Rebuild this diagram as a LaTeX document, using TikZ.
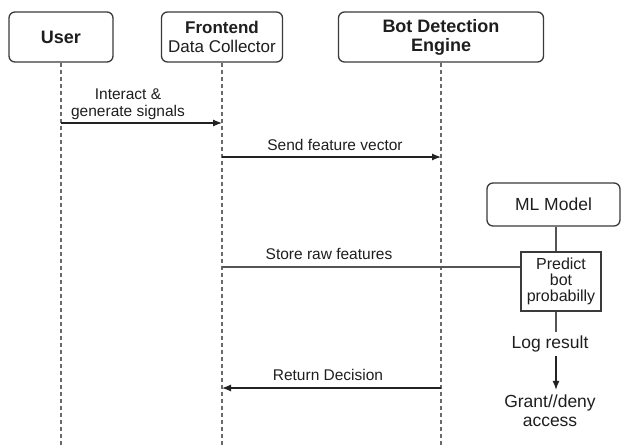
\documentclass[tikz,border=0pt]{standalone}
\usepackage{fontspec}
\setmainfont{Liberation Sans}
\usetikzlibrary{arrows.meta}
\definecolor{boxc}{HTML}{3A3A3A}
\definecolor{lifec}{HTML}{6A6A6A}
\definecolor{arr}{HTML}{222222}
\definecolor{txt}{HTML}{1E1E1E}
\definecolor{thin}{HTML}{555555}
\begin{document}
\begin{tikzpicture}[x=1pt,y=-1pt,
  actor/.style={draw=boxc, line width=1.3pt, rounded corners=6pt, fill=white, align=center, text=txt, inner sep=0pt},
  plainbox/.style={draw=boxc, line width=1.3pt, fill=white, align=center, text=txt, inner sep=0pt},
  life/.style={draw=lifec, line width=1.1pt, dash pattern=on 4pt off 3pt},
  msg/.style={draw=arr, line width=1.2pt, -{Latex[length=9pt,width=7pt]}},
  plainline/.style={draw=thin, line width=1.2pt},
  lbl/.style={text=txt, font=\fontsize{15.5}{17}\selectfont, align=center, inner sep=0pt},
  big/.style={text=txt, font=\fontsize{17.5}{19}\selectfont, align=center, inner sep=4pt}
]
\useasboundingbox (0,0) rectangle (622,445);
% actors
\node[actor, minimum width=104pt, minimum height=50pt, font=\fontsize{18}{20}\selectfont\bfseries] (user) at (61,37)
  {User};
\node[actor, minimum width=121pt, minimum height=50pt, font=\fontsize{17}{19}\selectfont] (front) at (222,37)
  {\textbf{Frontend}\\Data Collector};
\node[actor, minimum width=205pt, minimum height=50pt, font=\fontsize{18}{19}\selectfont\bfseries] (bot) at (441,37)
  {Bot Detection\\Engine};
% lifeline ends
\coordinate (uend) at (61,445);
\coordinate (fend) at (222,445);
\coordinate (bend) at (441,445);
\draw[life] (user.south) -- (uend);
\draw[life] (front.south) -- (fend);
\draw[life] (bot.south) -- (bend);
% ML part
\node[actor, minimum width=133pt, minimum height=43pt, font=\fontsize{17.5}{19}\selectfont] (ml) at (553.5,204.5)
  {ML Model};
\node[plainbox, minimum width=80pt, minimum height=59pt, font=\fontsize{16}{16}\selectfont] (pred) at (561,281.5)
  {Predict\\bot\\probabilly};
\coordinate (cx) at (556,0);
\node[big] (log) at (550,344) {Log result};
\node[big, inner sep=5pt] (grant) at (550,411) {Grant//deny\\access};
\draw[plainline] (ml.south -| cx) -- (pred.north -| cx);
\draw[plainline] (pred.south -| cx) -- (log.north -| cx);
\draw[msg] (log.south -| cx) -- (grant.north -| cx);
% message points
\coordinate (u1) at (61,123);
\coordinate (f1) at (222,123);
\coordinate (f2) at (222,157);
\coordinate (b2) at (441,157);
\coordinate (f3) at (222,267);
\coordinate (f4) at (222,388);
\coordinate (b4) at (441,388);
% messages
\draw[msg] (u1) -- (f1);
\node[lbl] (l1) at (128,104) {Interact \&\\generate signals};
\draw[msg] (f2) -- (b2);
\node[lbl] (l2) at (335,145) {Send feature vector};
\draw[plainline] (f3) -- (pred.west |- f3);
\node[lbl] (l3) at (329,254) {Store raw features};
\draw[msg] (b4) -- (f4);
\node[lbl] (l4) at (328,375) {Return Decision};
\end{tikzpicture}
\end{document}
